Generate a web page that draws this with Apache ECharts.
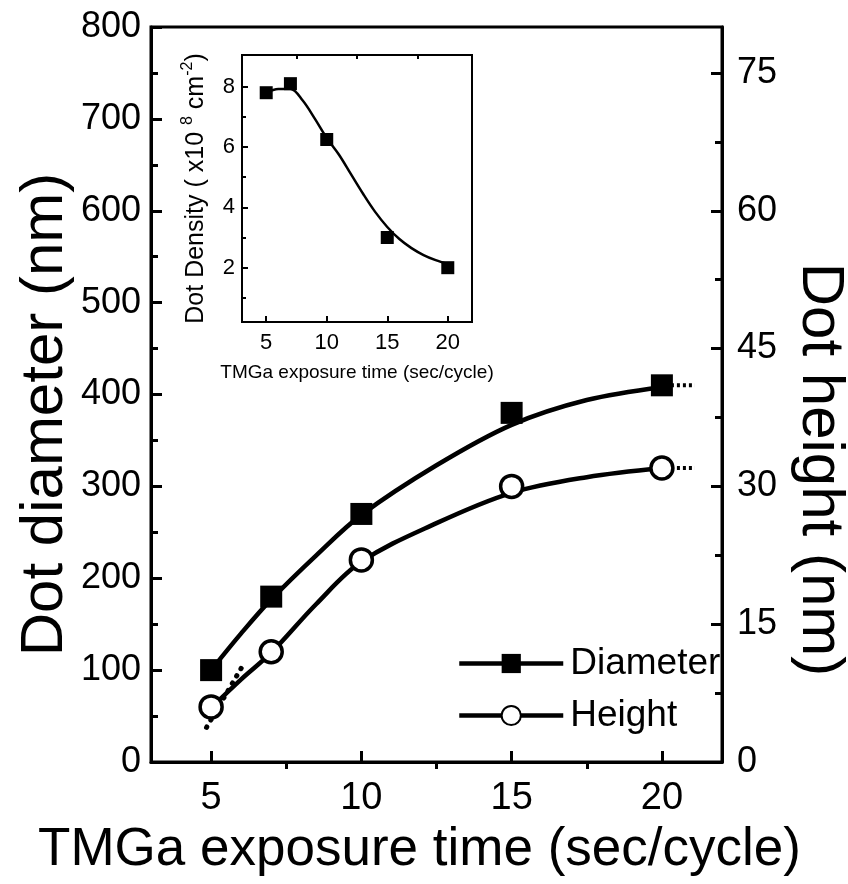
<!DOCTYPE html>
<html>
<head>
<meta charset="utf-8">
<script src="https://cdn.jsdelivr.net/npm/echarts@6/dist/echarts.min.js"></script>
<style>
html,body{margin:0;padding:0;background:#fff;}
#c{width:848px;height:884px;}
</style>
</head>
<body>
<div id="c"></div>
<script>
// ---- data ----
const exposure = [5, 7, 10, 15, 20];
const diameter = [100, 180, 270, 380, 410];          // nm (left axis)
const height = [6, 12, 22, 30, 32];                  // nm (right axis)
const density = [7.8, 8.1, 6.25, 3.0, 2.0];          // x10^8 cm^-2 (inset)

// fitted guide curves
const diamFit = [[5,100],[6,140],[7,177],[8.5,225],[10,269],[12.5,323],[15,367],[17.5,394],[20,408]];
const heightFit = [[5,5.9],[6,9.0],[7,11.9],[8.5,17.2],[10,21.8],[12.5,26.0],[15,29.3],[17.5,31.0],[20,32.0]];
const densityFit = [[5,7.8],[6,7.92],[7,7.92],[8,7.55],[9,6.95],[10,6.3],[11,5.75],[12,5.1],[13,4.45],[14,3.85],[15,3.35],[16,2.95],[17,2.65],[18,2.42],[19,2.25],[20,2.12]];

// dotted extrapolations
const diamExtHigh = [[20.3,410],[21.1,410]];
const heightExtHigh = [[20.3,32],[21.1,32]];
const lowExt = [[6.0,102],[4.8,35]];

// ticks
const xMajor = [5, 10, 15, 20];
const xMinor = [7.5, 12.5, 17.5];
const rightMajor = [0, 15, 30, 45, 60, 75];
const rightMinor = [7.5, 22.5, 37.5, 52.5, 67.5];
const insetYMajor = [2, 4, 6, 8];
const insetYMinor = [1, 3, 5, 7];

const FONT = "'Liberation Sans', Arial, Helvetica, sans-serif";
const K = '#000';

const chart = echarts.init(document.getElementById('c'), null, {renderer: 'canvas'});

const axisBase = (w) => ({
  axisLine: {show: true, onZero: false, lineStyle: {color: K, width: w}},
  splitLine: {show: false},
});

const option = {
  backgroundColor: '#fff',
  animation: false,
  textStyle: {fontFamily: FONT, color: K},
  grid: [
    {left: 151, top: 27, width: 571, height: 735, show: true, borderColor: K, borderWidth: 3,
     backgroundColor: 'transparent', containLabel: false, outerBoundsMode: 'none'},
    {left: 242, top: 55, width: 230, height: 267, show: true, borderColor: K, borderWidth: 2,
     backgroundColor: '#fff', containLabel: false, outerBoundsMode: 'none'}
  ],
  legend: {
    orient: 'vertical', left: 452, top: 640, itemWidth: 104, itemHeight: 24, itemGap: 15,
    textStyle: {fontFamily: FONT, fontSize: 37, color: K, padding: [0, 0, 0, 2]},
    lineStyle: {width: 4.5, color: K, opacity: 1},
    data: ['Diameter', 'Height']
  },
  xAxis: [
    Object.assign(axisBase(3), {
      type: 'value', gridIndex: 0, min: 3, max: 22,
      name: 'TMGa exposure time (sec/cycle)', nameLocation: 'middle', nameGap: 62,
      nameTextStyle: {fontFamily: FONT, fontSize: 53, color: K, padding: [0, 34, 0, 0]},
      axisTick: {show: true, inside: true, length: 11, lineStyle: {width: 3, color: K}, customValues: xMajor},
      axisLabel: {show: true, margin: 18, fontFamily: FONT, fontSize: 38, color: K, customValues: xMajor}
    }),
    Object.assign(axisBase(0), {
      type: 'value', gridIndex: 0, min: 3, max: 22,
      axisLine: {show: false},
      axisTick: {show: true, inside: true, length: 7, lineStyle: {width: 3, color: K}, customValues: xMinor},
      axisLabel: {show: false, customValues: xMinor}
    }),
    Object.assign(axisBase(2), {
      type: 'value', gridIndex: 1, min: 3, max: 22,
      name: 'TMGa exposure time (sec/cycle)', nameLocation: 'middle', nameGap: 41,
      nameTextStyle: {fontFamily: FONT, fontSize: 19, color: K},
      axisTick: {show: true, inside: true, length: 6, lineStyle: {width: 2, color: K}, customValues: xMajor},
      axisLabel: {show: true, margin: 10, fontFamily: FONT, fontSize: 22, color: K, customValues: xMajor}
    }),
    Object.assign(axisBase(0), {
      type: 'value', gridIndex: 1, min: 3, max: 22,
      axisLine: {show: false},
      axisTick: {show: true, inside: true, length: 4, lineStyle: {width: 2, color: K}, customValues: xMinor},
      axisLabel: {show: false, customValues: xMinor}
    })
  ],
  yAxis: [
    Object.assign(axisBase(3), {
      type: 'value', gridIndex: 0, min: 0, max: 800, interval: 100, position: 'left',
      name: 'Dot diameter (nm)', nameLocation: 'middle', nameGap: 76, nameRotate: 90, nameMoveOverlap: false,
      nameTextStyle: {fontFamily: FONT, fontSize: 60, color: K, padding: [0, 40, 0, 0]},
      axisTick: {show: true, inside: true, length: 11, lineStyle: {width: 3, color: K}},
      minorTick: {show: true, splitNumber: 2, length: 7, lineStyle: {width: 3, color: K}},
      axisLabel: {show: true, margin: 10, fontFamily: FONT, fontSize: 36, color: K}
    }),
    Object.assign(axisBase(3), {
      type: 'value', gridIndex: 0, min: 0, max: 80, position: 'right',
      name: 'Dot height (nm)', nameLocation: 'middle', nameGap: 68, nameRotate: -90, nameMoveOverlap: false,
      nameTextStyle: {fontFamily: FONT, fontSize: 60, color: K, padding: [0, 0, 0, 150]},
      axisTick: {show: true, inside: true, length: 11, lineStyle: {width: 3, color: K}, customValues: rightMajor},
      axisLabel: {show: true, margin: 15, fontFamily: FONT, fontSize: 36, color: K, customValues: rightMajor}
    }),
    Object.assign(axisBase(0), {
      type: 'value', gridIndex: 0, min: 0, max: 80, position: 'right',
      axisLine: {show: false},
      axisTick: {show: true, inside: true, length: 7, lineStyle: {width: 3, color: K}, customValues: rightMinor},
      axisLabel: {show: false, customValues: rightMinor}
    }),
    Object.assign(axisBase(2), {
      type: 'value', gridIndex: 1, min: 0.2, max: 9.05, position: 'left',
      name: 'Dot Density ( x10 {sup|8} cm{sup|-2})', nameLocation: 'middle', nameGap: 30, nameRotate: 90,
      nameTextStyle: {fontFamily: FONT, fontSize: 25, color: K, padding: [0, 0, 0, 0],
        rich: {sup: {fontFamily: FONT, fontSize: 16, color: K, verticalAlign: 'top', lineHeight: 32, padding: [0, 0, 12, 0]}}},
      axisTick: {show: true, inside: true, length: 6, lineStyle: {width: 2, color: K}, customValues: insetYMajor},
      axisLabel: {show: true, margin: 7, fontFamily: FONT, fontSize: 22, color: K, customValues: insetYMajor}
    }),
    Object.assign(axisBase(0), {
      type: 'value', gridIndex: 1, min: 0.2, max: 9.05, position: 'left',
      axisLine: {show: false},
      axisTick: {show: true, inside: true, length: 4, lineStyle: {width: 2, color: K}, customValues: insetYMinor},
      axisLabel: {show: false, customValues: insetYMinor}
    })
  ],
  series: [
    {type: 'line', name: 'diamFit', xAxisIndex: 0, yAxisIndex: 0, data: diamFit, smooth: 0.35,
     showSymbol: false, symbol: 'none', lineStyle: {color: K, width: 4.5}, z: 3, silent: true},
    {type: 'line', name: 'heightFit', xAxisIndex: 0, yAxisIndex: 1, data: heightFit, smooth: 0.35,
     showSymbol: false, symbol: 'none', lineStyle: {color: K, width: 4.5}, z: 3, silent: true},
    {type: 'line', name: 'ext1', xAxisIndex: 0, yAxisIndex: 0, data: diamExtHigh, symbol: 'none',
     lineStyle: {color: K, width: 4, type: [3, 3]}, z: 3},
    {type: 'line', name: 'ext2', xAxisIndex: 0, yAxisIndex: 1, data: heightExtHigh, symbol: 'none',
     lineStyle: {color: K, width: 4, type: [3, 3]}, z: 3},
    {type: 'line', name: 'ext3', xAxisIndex: 0, yAxisIndex: 0, data: lowExt, symbol: 'none',
     lineStyle: {color: K, width: 5, type: [0.5, 8], cap: 'round'}, z: 3},
    {type: 'line', name: 'Diameter', xAxisIndex: 0, yAxisIndex: 0,
     data: exposure.map((x, i) => [x, diameter[i]]),
     symbol: 'rect', symbolSize: 22, itemStyle: {color: K}, lineStyle: {width: 0, color: K}, z: 5},
    {type: 'line', name: 'Height', xAxisIndex: 0, yAxisIndex: 1,
     data: exposure.map((x, i) => [x, height[i]]),
     symbol: 'circle', symbolSize: 22, itemStyle: {color: '#fff', borderColor: K, borderWidth: 3.5},
     lineStyle: {width: 0, color: K}, z: 5},
    {type: 'line', name: 'densityFit', xAxisIndex: 2, yAxisIndex: 3, data: densityFit, smooth: 0.35,
     showSymbol: false, symbol: 'none', lineStyle: {color: K, width: 2.5}, z: 10},
    {type: 'line', name: 'density', xAxisIndex: 2, yAxisIndex: 3,
     data: exposure.map((x, i) => [x, density[i]]),
     symbol: 'rect', symbolSize: 13, itemStyle: {color: K}, lineStyle: {width: 0}, z: 11}
  ]
};
chart.setOption(option);
</script>
</body>
</html>
